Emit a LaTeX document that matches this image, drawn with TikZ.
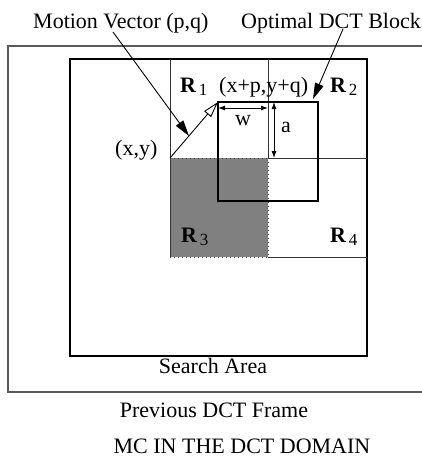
\documentclass[tikz,border=0pt]{standalone}
\usepackage{fontspec}
\setmainfont{Liberation Serif}
\usetikzlibrary{arrows.meta}
\newcommand\RR[1]{\textbf{R}\hspace{2.5pt}\raisebox{-3pt}{\fontsize{17}{17}\selectfont #1}}
\begin{document}
\begin{tikzpicture}[x=1pt,y=-1pt,
  lbl/.style={inner sep=0pt, font=\fontsize{22}{26}\selectfont},
  frame/.style={draw=black!65, line width=1.6pt},
  box/.style={draw=black, line width=1.1pt},
  grid/.style={draw=black!80, line width=1pt},
  dotline/.style={draw=black!75, line width=1pt, dash pattern=on 1pt off 3pt},
  dim/.style={draw=black, line width=0.9pt, {Latex[length=7pt,width=5pt]}-{Latex[length=7pt,width=5pt]}},
  pointer/.style={draw=black, line width=0.9pt, -{Triangle[length=16pt,width=9pt]}},
  mvarrow/.style={draw=black, line width=0.9pt, -{Triangle[open,length=16pt,width=9pt,fill=white]}}]
\useasboundingbox (0,0) rectangle (422,461);
% outer frame (right edge beyond picture)
\draw[frame] (440,46) -- (8,46) -- (8,392) -- (440,392);
% search area
\draw[box] (70,59) rectangle (367,356);
% shaded R3
\fill[black!50] (170,158) rectangle (268,257);
% grid lines
\draw[grid] (170,59) -- (170,257);
\draw[grid] (268,59) -- (268,158);
\draw[grid] (268,158) -- (367,158);
\draw[grid] (268,257) -- (367,257);
\draw[dotline] (170,158) -- (268,158);
\draw[dotline] (268,158) -- (268,257);
\draw[dotline] (170,257) -- (268,257);
% optimal block
\draw[box] (218,102) rectangle (318,201);
% coordinates
\coordinate (xy) at (170,158);
\coordinate (xpyq) at (218,102);
\coordinate (wl) at (218,108);
\coordinate (wr) at (268,108);
\coordinate (at) at (274,102);
\coordinate (ab) at (274,158);
\coordinate (mvs) at (113,32);
\coordinate (mvt) at (189,136);
\coordinate (obs) at (343,29);
\coordinate (obt) at (313,99);
% arrows
\draw[mvarrow] (xy) -- (xpyq);
\draw[dim] (wl) -- (wr);
\draw[dim] (at) -- (ab);
% labels
\node[lbl, anchor=base west] (mv) at (33,28) {Motion Vector (p,q)};
\node[lbl, anchor=base west] (ob) at (241,28) {Optimal DCT Block};
\draw[pointer] (mvs) -- (mvt);
\draw[pointer] (obs) -- (obt);
\node[lbl, anchor=base west] (r1) at (180,92) {\RR{1}};
\node[lbl, anchor=base west] (r2) at (330,92) {\RR{2}};
\node[lbl, anchor=base west] (r3) at (181,242) {\RR{3}};
\node[lbl, anchor=base west] (r4) at (330,242) {\RR{4}};
\node[lbl, anchor=base west] (lxpyq) at (219,92) {(x+p,y+q)};
\node[lbl, anchor=base west] (lxy) at (115,155) {(x,y)};
\node[lbl, anchor=base] (lw) at (243,125) {w};
\node[lbl, anchor=base west] (la) at (281,132) {a};
\node[lbl, anchor=base] (sa) at (213,373) {Search Area};
\node[lbl, anchor=base] (pf) at (214,417) {Previous DCT Frame};
\node[lbl, anchor=base] (mc) at (242,453) {MC IN THE DCT DOMAIN};
\end{tikzpicture}
\end{document}
